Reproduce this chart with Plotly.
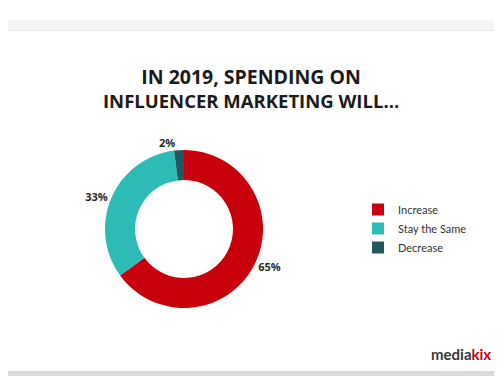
import plotly.graph_objects as go

labels = ["Increase", "Stay the Same", "Decrease"]
values = [65, 33, 2]
colors = ["#C7000B", "#2DBBB8", "#245860"]
title_lines = ["IN 2019, SPENDING ON", "INFLUENCER MARKETING WILL..."]

# page body has an 8px margin, so the figure sits at (8, 8) in the 502x376 window
OFF = 8
W, H = 502 - OFF, 376 - OFF

def px_x(x):
    return (x - OFF) / W

def px_y(y):
    return 1 - (y - OFF) / H

cx, cy, r = 184, 229, 79

fig = go.Figure(go.Pie(
    labels=labels,
    values=values,
    marker=dict(colors=colors, line=dict(width=0)),
    hole=0.62,
    sort=False,
    direction="clockwise",
    rotation=0,
    textposition="outside",
    texttemplate="<b>%{value}%</b>",
    textfont=dict(family="Open Sans", size=11, color="#2a2a2a"),
    domain=dict(x=[px_x(cx - r), px_x(cx + r)], y=[px_y(cy + r), px_y(cy - r)]),
    showlegend=True,
))

fig.update_layout(
    width=W, height=H,
    margin=dict(l=0, r=0, t=0, b=0),
    paper_bgcolor="white",
    plot_bgcolor="white",
    font=dict(family="Lato", color="#333333"),
    legend=dict(
        x=px_x(358), y=px_y(195), xanchor="left", yanchor="top",
        font=dict(family="Lato", size=11, color="#333333"),
        tracegroupgap=0, itemwidth=30,
    ),
    shapes=[
        dict(type="rect", xref="paper", yref="paper", x0=0, x1=1,
             y0=px_y(31), y1=px_y(20), fillcolor="#f6f6f6", line=dict(width=0), layer="below"),
        dict(type="line", xref="paper", yref="paper", x0=px_x(8), x1=px_x(494),
             y0=px_y(30.5), y1=px_y(30.5), line=dict(color="#e4e4e4", width=1)),
        dict(type="line", xref="paper", yref="paper", x0=px_x(8), x1=px_x(494),
             y0=px_y(25), y1=px_y(25), line=dict(color="#eeeeee", width=1)),
        dict(type="rect", xref="paper", yref="paper", x0=0, x1=1,
             y0=0, y1=px_y(371), fillcolor="#d9d9d9", line=dict(width=0)),
    ],
    annotations=[
        dict(text="<b><span style='font-size:19.5px'>" + title_lines[0] + "</span></b><br><b>"
                  + title_lines[1] + "</b>",
             x=px_x(251), y=px_y(88), xref="paper", yref="paper", showarrow=False,
             xanchor="center", yanchor="middle",
             font=dict(family="Open Sans", size=18.5, color="#1a1a1a")),
        dict(text="<b>media<span style='color:#C7000B'>kix</span></b>",
             x=px_x(429), y=px_y(354), xref="paper", yref="paper", showarrow=False,
             xanchor="left", yanchor="middle",
             font=dict(family="Lato", size=15, color="#3a3a3a")),
    ],
)

fig.write_html("out.html")
